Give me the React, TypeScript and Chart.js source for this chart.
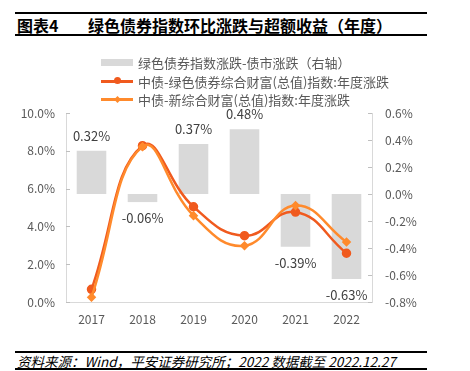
import React, { useEffect, useRef } from "react";
import { Chart, registerables } from "chart.js";

Chart.register(...registerables);

const years = ["2017", "2018", "2019", "2020", "2021", "2022"];
const barDiff = [0.32, -0.06, 0.37, 0.48, -0.39, -0.63];
const greenIndex = [0.67, 8.27, 5.04, 3.51, 4.76, 2.58];
const compositeIndex = [0.25, 8.22, 4.57, 2.98, 5.1, 3.17];

const leftTicks = [0, 2, 4, 6, 8, 10];
const rightTicks = [-0.8, -0.6, -0.4, -0.2, 0, 0.2, 0.4, 0.6];

const legendLabels = [
  "绿色债券指数涨跌-债市涨跌（右轴）",
  "中债-绿色债券综合财富(总值)指数:年度涨跌",
  "中债-新综合财富(总值)指数:年度涨跌",
];

const C_BAR = "#D9D9D9";
const C_S1 = "#F05A1E";
const C_S2 = "#FF8A2C";
const FONT = "'Noto Sans CJK SC', 'Noto Sans', sans-serif";

const innerTicks = {
  id: "innerTicks",
  afterDraw(chart: any) {
    const ctx = chart.ctx;
    const y = chart.scales.y;
    const y2 = chart.scales.y2;
    ctx.save();
    ctx.strokeStyle = "#BFBFBF";
    ctx.lineWidth = 1;
    y.ticks.forEach((t: any) => {
      const py = Math.round(y.getPixelForValue(t.value)) + 0.5;
      ctx.beginPath();
      ctx.moveTo(y.right, py);
      ctx.lineTo(y.right + 4, py);
      ctx.stroke();
    });
    y2.ticks.forEach((t: any) => {
      const py = Math.round(y2.getPixelForValue(t.value)) + 0.5;
      ctx.beginPath();
      ctx.moveTo(y2.left, py);
      ctx.lineTo(y2.left - 4, py);
      ctx.stroke();
    });
    ctx.restore();
  },
};

const barLabels = {
  id: "barLabels",
  afterDatasetsDraw(chart: any) {
    const ctx = chart.ctx;
    const meta = chart.getDatasetMeta(2);
    ctx.save();
    ctx.font = `13px ${FONT}`;
    ctx.fillStyle = "#404040";
    ctx.textAlign = "center";
    ctx.textBaseline = "middle";
    meta.data.forEach((el: any, i: number) => {
      const v = barDiff[i];
      const txt = v.toFixed(2) + "%";
      const py = v >= 0 ? el.y - 15 : el.y + 16;
      ctx.fillText(txt, el.x, py);
    });
    ctx.restore();
  },
};

function Legend() {
  const row = (top: number): React.CSSProperties => ({
    position: "absolute",
    left: 101,
    top,
    height: 18,
    display: "flex",
    alignItems: "center",
    fontFamily: FONT,
    fontSize: 13,
    color: "#595959",
    whiteSpace: "nowrap",
  });
  const lineSwatch = (color: string, diamond: boolean) => (
    <div style={{ position: "relative", width: 32, height: 18, marginRight: 5 }}>
      <div style={{ position: "absolute", left: 0, top: 8, width: 32, height: 2.5, background: color }} />
      {diamond ? (
        <div style={{ position: "absolute", left: 13.5, top: 6.5, width: 5, height: 5, background: color, transform: "rotate(45deg)" }} />
      ) : (
        <div style={{ position: "absolute", left: 13, top: 5, width: 7, height: 7, borderRadius: 4, background: color }} />
      )}
    </div>
  );
  return (
    <>
      <div style={row(53)}>
        <div style={{ width: 32, height: 7, background: C_BAR, marginRight: 5 }} />
        {legendLabels[0]}
      </div>
      <div style={row(72)}>
        {lineSwatch(C_S1, false)}
        {legendLabels[1]}
      </div>
      <div style={row(90)}>
        {lineSwatch(C_S2, true)}
        {legendLabels[2]}
      </div>
    </>
  );
}

export default function App() {
  const ref = useRef<HTMLCanvasElement>(null);

  useEffect(() => {
    if (!ref.current) return;
    const chart = new Chart(ref.current, {
      data: {
        labels: years,
        datasets: [
          {
            type: "line",
            label: legendLabels[1],
            data: greenIndex,
            yAxisID: "y",
            borderColor: C_S1,
            backgroundColor: C_S1,
            borderWidth: 2.5,
            pointRadius: 3.5,
            pointStyle: "circle",
            tension: 0.45,
            order: 1,
          },
          {
            type: "line",
            label: legendLabels[2],
            data: compositeIndex,
            yAxisID: "y",
            borderColor: C_S2,
            backgroundColor: C_S2,
            borderWidth: 2.5,
            pointRadius: 3,
            pointStyle: "rectRot",
            tension: 0.45,
            order: 0,
          },
          {
            type: "bar",
            label: legendLabels[0],
            data: barDiff,
            yAxisID: "y2",
            backgroundColor: C_BAR,
            categoryPercentage: 1,
            barPercentage: 0.58,
            order: 2,
          },
        ] as any,
      },
      plugins: [innerTicks, barLabels],
      options: {
        animation: false,
        responsive: false,
        maintainAspectRatio: false,
        layout: { padding: { top: 73, left: 0, right: 0, bottom: 0 } },
        plugins: { legend: { display: false }, tooltip: { enabled: false } },
        scales: {
          x: {
            grid: { display: false, drawTicks: false },
            border: { color: "#D9D9D9", width: 1 },
            ticks: { color: "#595959", font: { family: FONT, size: 12 }, padding: 10 },
            afterFit(s: any) {
              s.height = 38;
            },
          },
          y: {
            position: "left",
            min: 0,
            max: 10,
            afterBuildTicks(s: any) {
              s.ticks = leftTicks.map((v) => ({ value: v }));
            },
            grid: { display: false, drawTicks: false },
            border: { color: "#D9D9D9", width: 1 },
            ticks: {
              color: "#595959",
              font: { family: FONT, size: 12 },
              padding: 11,
              callback: (v: any) => Number(v).toFixed(1) + "%",
            },
            afterFit(s: any) {
              s.width = 66;
            },
          },
          y2: {
            position: "right",
            min: -0.8,
            max: 0.6,
            afterBuildTicks(s: any) {
              s.ticks = rightTicks.map((v) => ({ value: v }));
            },
            grid: { display: false, drawTicks: false },
            border: { color: "#D9D9D9", width: 1 },
            ticks: {
              color: "#595959",
              font: { family: FONT, size: 12 },
              padding: 13,
              callback: (v: any) => Number(v).toFixed(1) + "%",
            },
            afterFit(s: any) {
              s.width = 98;
            },
          },
        },
      } as any,
    });
    return () => chart.destroy();
  }, []);

  const hline = (top: number): React.CSSProperties => ({
    position: "absolute",
    left: 15,
    top,
    width: 412,
    height: 2,
    background: "#000",
  });

  return (
    <div style={{ position: "absolute", left: 0, top: 0, width: 470, height: 371, background: "#fff", overflow: "hidden" }}>
      <div style={hline(12)} />
      <div
        style={{
          position: "absolute",
          left: 17,
          top: 14,
          height: 21,
          display: "flex",
          alignItems: "center",
          fontFamily: FONT,
          fontWeight: 700,
          fontSize: 16,
          color: "#000",
          whiteSpace: "nowrap",
        }}
      >
        <span style={{ width: 71, display: "inline-block" }}>图表4</span>
        <span>绿色债券指数环比涨跌与超额收益（年度）</span>
      </div>
      <div style={hline(34)} />
      <canvas ref={ref} width={470} height={300} style={{ position: "absolute", left: 0, top: 40, width: 470, height: 300 }} />
      <Legend />
      <div style={hline(351)} />
      <div
        style={{
          position: "absolute",
          left: 17,
          top: 353,
          height: 16,
          display: "flex",
          alignItems: "center",
          fontFamily: FONT,
          fontStyle: "italic",
          fontSize: 13.5,
          color: "#000",
          whiteSpace: "nowrap",
        }}
      >
        资料来源：Wind，平安证券研究所；2022 数据截至 2022.12.27
      </div>
      <div style={hline(368)} />
    </div>
  );
}
